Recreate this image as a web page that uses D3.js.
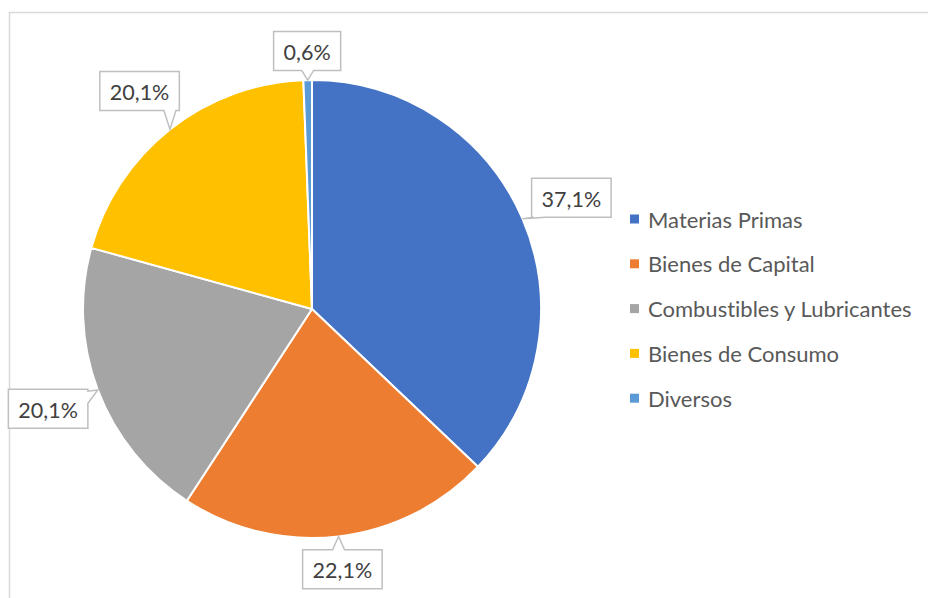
<!DOCTYPE html>
<html>
<head>
<meta charset="utf-8">
<script src="https://cdn.jsdelivr.net/npm/d3@7"></script>
<style>
  body { margin: 0; background: #fff; }
  svg { display: block; font-family: Lato, "Open Sans", sans-serif; font-variant-ligatures: none; }
</style>
</head>
<body>
<div id="chart"></div>
<script>
const categories = ["Materias Primas", "Bienes de Capital", "Combustibles y Lubricantes", "Bienes de Consumo", "Diversos"];
const values = [37.1, 22.1, 20.1, 20.1, 0.6];
const labels = ["37,1%", "22,1%", "20,1%", "20,1%", "0,6%"];
const colors = ["#4472C4", "#ED7D31", "#A5A5A5", "#FFC000", "#5B9BD5"];

const width = 928, height = 598;
const cx = 312, cy = 309, radius = 229;

const svg = d3.select("#chart").append("svg")
  .attr("width", width)
  .attr("height", height);

// chart area border (right and bottom fall outside the window)
svg.append("rect")
  .attr("x", 9.5).attr("y", 12.5)
  .attr("width", width + 20).attr("height", height + 20)
  .attr("fill", "#fff")
  .attr("stroke", "#d9d9d9")
  .attr("stroke-width", 1.5);

const pie = d3.pie().sort(null).value((d) => d);
const arcs = pie(values);
const arc = d3.arc().innerRadius(0).outerRadius(radius);

const g = svg.append("g").attr("transform", "translate(" + cx + "," + cy + ")");

g.selectAll("path.slice")
  .data(arcs)
  .enter()
  .append("path")
  .attr("class", "slice")
  .attr("d", arc)
  .attr("fill", (d, i) => colors[i])
  .attr("stroke", "#fff")
  .attr("stroke-width", 2)
  .attr("stroke-linejoin", "round");

// data labels with callout boxes
const labelG = g.append("g");
const boxH = 39, padX = 10, gap = 9, notch = 6;

arcs.forEach((d, i) => {
  const a = (d.startAngle + d.endAngle) / 2;
  const sx = Math.sin(a), sy = -Math.cos(a);

  const t = labelG.append("text")
    .attr("text-anchor", "middle")
    .attr("dominant-baseline", "central")
    .style("font-size", "21.5px")
    .attr("fill", "#404040")
    .text(labels[i]);
  const tw = t.node().getComputedTextLength();
  const boxW = tw + padX * 2;

  const dist = radius + gap + Math.abs(sx) * boxW / 2 + Math.abs(sy) * boxH / 2;
  const bx = sx * dist, by = sy * dist;
  const tip = [sx * radius, sy * radius];
  const l = bx - boxW / 2, r = bx + boxW / 2, tp = by - boxH / 2, b = by + boxH / 2;

  // which side of the box the pointer comes out of
  let side;
  if (tip[0] >= l && tip[0] <= r) side = tip[1] < tp ? "top" : "bottom";
  else if (tip[1] >= tp && tip[1] <= b) side = tip[0] < l ? "left" : "right";
  else side = tip[1] < tp ? "top" : "bottom";

  const clamp = (v, lo, hi) => Math.max(lo, Math.min(hi, v));
  const p = d3.path();
  p.moveTo(l, tp);
  if (side === "top") {
    const c = clamp(tip[0], l + notch + 2, r - notch - 2);
    p.lineTo(c - notch, tp); p.lineTo(tip[0], tip[1]); p.lineTo(c + notch, tp);
  }
  p.lineTo(r, tp);
  if (side === "right") {
    const c = clamp(tip[1], tp + notch + 2, b - notch - 2);
    p.lineTo(r, c - notch); p.lineTo(tip[0], tip[1]); p.lineTo(r, c + notch);
  }
  p.lineTo(r, b);
  if (side === "bottom") {
    const c = clamp(tip[0], l + notch + 2, r - notch - 2);
    p.lineTo(c + notch, b); p.lineTo(tip[0], tip[1]); p.lineTo(c - notch, b);
  }
  p.lineTo(l, b);
  if (side === "left") {
    const c = clamp(tip[1], tp + notch + 2, b - notch - 2);
    p.lineTo(l, c + notch); p.lineTo(tip[0], tip[1]); p.lineTo(l, c - notch);
  }
  p.closePath();

  labelG.insert("path", "text")
    .attr("d", p.toString())
    .attr("fill", "#fff")
    .attr("stroke", "#bfbfbf")
    .attr("stroke-width", 1.5);

  t.attr("x", bx).attr("y", by + 1);
});

// legend
const legend = svg.append("g").attr("transform", "translate(630,219)");
const rowH = 44.8;

const item = legend.selectAll("g")
  .data(categories)
  .enter()
  .append("g")
  .attr("transform", (d, i) => "translate(0," + i * rowH + ")");

item.append("rect")
  .attr("x", 0).attr("y", -4.5)
  .attr("width", 9).attr("height", 9)
  .attr("fill", (d, i) => colors[i]);

item.append("text")
  .attr("x", 18)
  .attr("dominant-baseline", "central")
  .style("font-size", "22px")
  .attr("fill", "#595959")
  .text((d) => d);
</script>
</body>
</html>
